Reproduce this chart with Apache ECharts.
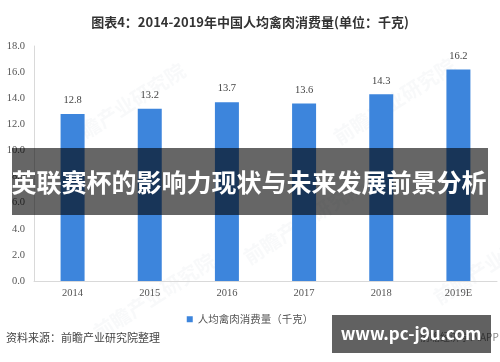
<!DOCTYPE html>
<html><head><meta charset="utf-8">
<script src="https://cdn.jsdelivr.net/npm/echarts@6/dist/echarts.min.js"></script>
<style>html,body{margin:0;padding:0;background:#fff}#c{width:500px;height:362px}</style>
</head><body><div id="c"></div>
<script>
var categories = ['2014', '2015', '2016', '2017', '2018', '2019E'];
var values = [12.8, 13.2, 13.7, 13.6, 14.3, 16.2];
var seriesName = '人均禽肉消费量（千克）';
var titleText = '图表4：2014-2019年中国人均禽肉消费量(单位：千克)';
var sourceText = '资料来源：前瞻产业研究院整理';
var bannerText = '英联赛杯的影响力现状与未来发展前景分析';
var badgeText = 'www.pc-j9u.com';

var chart = echarts.init(document.getElementById('c'));
var serif = '"Liberation Serif", "DejaVu Serif", serif';
var cjk = '"Noto Sans CJK SC", "Noto Sans", sans-serif';
var wm = [];
[[60,60],[330,55],[240,175],[90,250],[430,215]].forEach(function(p){
  wm.push({type:'text', left:p[0], top:p[1], rotation:Math.PI/5.5, z:0,
    style:{text:'前瞻产业研究院', fill:'rgba(200,205,215,0.12)', font:'bold 20px ' + cjk}});
});
chart.setOption({
  animation:false,
  title:{text:titleText, left:'center', top:11,
    textStyle:{fontSize:13, fontWeight:'bold', color:'#333', fontFamily:cjk}},
  grid:{left:34, right:3, top:46, bottom:81},
  legend:{data:[seriesName], left:'center', top:309, itemWidth:6, itemHeight:6, itemGap:4,
    icon:'rect', textStyle:{fontSize:10.5, color:'#555', fontFamily:cjk}},
  xAxis:{type:'category', data:categories,
    axisLine:{lineStyle:{color:'#d9d9d9'}}, axisTick:{show:false},
    axisLabel:{color:'#555', fontSize:10.5, fontFamily:serif, margin:7}},
  yAxis:{type:'value', min:0, max:18, interval:2,
    axisLine:{show:true, lineStyle:{color:'#d9d9d9'}}, splitLine:{show:false},
    axisLabel:{color:'#555', fontSize:10.5, fontFamily:serif, margin:9,
      formatter:function(v){return v.toFixed(1);}}},
  series:[{name:seriesName, type:'bar', data:values, barWidth:24,
    itemStyle:{color:'#3d85dc'},
    label:{show:true, position:'top', distance:8, color:'#444', fontSize:10.5, fontFamily:serif,
      formatter:function(p){return p.value.toFixed(1);}}}],
  graphic: wm.concat([
    {type:'text', left:6, top:332, style:{text:sourceText, fill:'#444', font:'11px ' + cjk}},
    {type:'text', left:420, top:332, z:50, style:{text:'前瞻经济学人APP', fill:'#888', font:'10px ' + cjk}},
    {type:'rect', shape:{x:12, y:148, width:476, height:67}, z:100,
      style:{fill:'rgba(0,0,0,0.6)'}},
    {type:'text', x:249, y:182, z:101,
      style:{text:bannerText, fill:'#fff', font:'bold 25px ' + cjk, textAlign:'center', textVerticalAlign:'middle'}},
    {type:'rect', shape:{x:332, y:315, width:159, height:38}, z:100,
      style:{fill:'rgba(0,0,0,0.62)'}},
    {type:'text', x:411, y:334, z:101,
      style:{text:badgeText, fill:'#fff', font:'bold 17px ' + cjk, textAlign:'center', textVerticalAlign:'middle'}}
  ])
});
</script></body></html>
